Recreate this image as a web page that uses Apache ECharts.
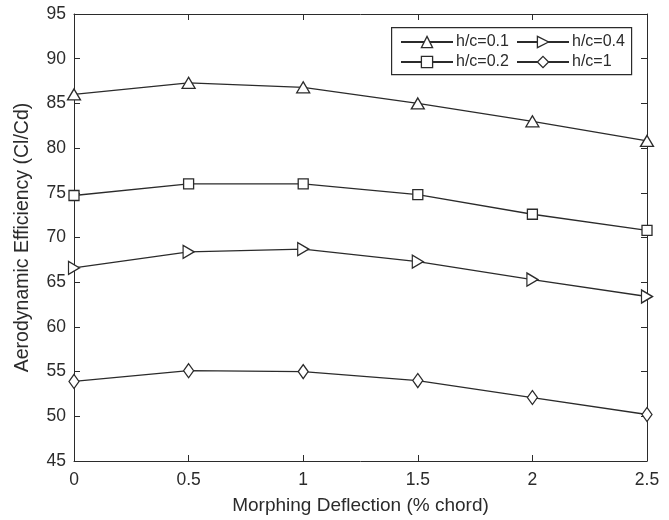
<!DOCTYPE html>
<html><head><meta charset="utf-8">
<script src="https://cdn.jsdelivr.net/npm/echarts@6/dist/echarts.min.js"></script>
<style>html,body{margin:0;padding:0;background:#fff}#c{width:669px;height:520px}</style>
</head><body><div id="c"></div>
<script>
var xValues = [0, 0.5, 1, 1.5, 2, 2.5];
var hc01 = [86.0, 87.3, 86.8, 85.0, 83.0, 80.8];
var hc02 = [74.7, 76.0, 76.0, 74.8, 72.6, 70.8];
var hc04 = [66.6, 68.4, 68.7, 67.3, 65.3, 63.4];
var hc1  = [53.9, 55.1, 55.0, 54.0, 52.1, 50.2];
var seriesNames = ['h/c=0.1', 'h/c=0.2', 'h/c=0.4', 'h/c=1'];

var FONT = 'Liberation Sans, Arial, sans-serif';
var INK = '#2b2b2b';
function pts(arr){ return xValues.map(function(x,i){ return [x, arr[i]]; }); }
function mk(name, data, symbol, size, rot){
  return {
    name: name, type: 'line', data: pts(data), symbol: symbol, symbolSize: size,
    symbolRotate: rot || 0, showAllSymbol: true, animation: false,
    lineStyle: {color: INK, width: 1.3},
    itemStyle: {color: '#fff', borderColor: INK, borderWidth: 1.3}
  };
}
var chart = echarts.init(document.getElementById('c'), null, {renderer: 'canvas'});
var tickStyle = {color: INK, width: 1};
var legendCommon = {
  orient: 'vertical', top: 29, itemGap: 4, itemWidth: 52, itemHeight: 14, z: 60,
  itemStyle: {color: '#fff', borderColor: INK, borderWidth: 1.3},
  textStyle: {fontFamily: FONT, fontSize: 16, color: INK, padding: [0,0,0,-2]}
};
chart.setOption({
  backgroundColor: '#fff',
  animation: false,
  grid: {left: 74, right: 22, top: 14, bottom: 57},
  graphic: [{type: 'rect', left: 391, top: 27, shape: {width: 240, height: 47},
    style: {fill: '#fff', stroke: INK, lineWidth: 1.2}, z: 50}],
  legend: [
    Object.assign({data: ['h/c=0.1', 'h/c=0.2'], left: 395}, legendCommon),
    Object.assign({data: ['h/c=0.4', 'h/c=1'], left: 511}, legendCommon)
  ],
  xAxis: [{
    type: 'value', min: 0, max: 2.5, interval: 0.5,
    name: 'Morphing Deflection (% chord)', nameLocation: 'middle', nameGap: 35,
    nameTextStyle: {fontFamily: FONT, fontSize: 19, color: INK},
    axisLine: {show: true, lineStyle: {color: INK, width: 1}},
    axisTick: {show: true, inside: true, length: 6, lineStyle: tickStyle},
    axisLabel: {fontFamily: FONT, fontSize: 17.5, color: INK, margin: 10},
    splitLine: {show: false}
  }, {
    type: 'value', min: 0, max: 2.5, interval: 0.5, position: 'top',
    axisLine: {show: true, onZero: false, lineStyle: {color: INK, width: 1}},
    axisTick: {show: true, inside: true, length: 6, lineStyle: tickStyle},
    axisLabel: {show: false}, splitLine: {show: false}
  }],
  yAxis: [{
    type: 'value', min: 45, max: 95, interval: 5,
    name: 'Aerodynamic Efficiency (Cl/Cd)', nameLocation: 'middle', nameGap: 41,
    nameTextStyle: {fontFamily: FONT, fontSize: 19.5, color: INK},
    axisLine: {show: true, lineStyle: {color: INK, width: 1}},
    axisTick: {show: true, inside: true, length: 6, lineStyle: tickStyle},
    axisLabel: {fontFamily: FONT, fontSize: 17.5, color: INK, margin: 8},
    splitLine: {show: false}
  }, {
    type: 'value', min: 45, max: 95, interval: 5, position: 'right',
    axisLine: {show: true, onZero: false, lineStyle: {color: INK, width: 1}},
    axisTick: {show: true, inside: true, length: 6, lineStyle: tickStyle},
    axisLabel: {show: false}, splitLine: {show: false}
  }],
  series: [
    mk(seriesNames[0], hc01, 'triangle', [13, 11], 0),
    mk(seriesNames[1], hc02, 'rect', 10, 0),
    mk(seriesNames[2], hc04, 'triangle', [13, 11], -90),
    mk(seriesNames[3], hc1, 'diamond', [10, 14], 0)
  ]
});
</script></body></html>
